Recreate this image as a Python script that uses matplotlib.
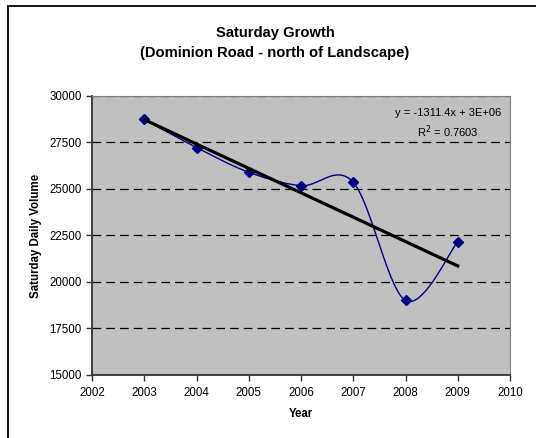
import numpy as np
import matplotlib
matplotlib.use('Agg')
import matplotlib.pyplot as plt
from matplotlib.patches import Rectangle

plt.rcParams['font.family'] = ['Liberation Sans', 'DejaVu Sans']

# Saturday daily volumes, Dominion Road north of Landscape
years = np.array([2003, 2004, 2005, 2006, 2007, 2008, 2009])
volumes = np.array([28740, 27230, 25900, 25180, 25360, 19010, 22160])

trend_text = 'y = -1311.4x + 3E+06\nR$^2$ = 0.7603'


def smooth_curve(x, y, n=40):
    # spreadsheet-style smoothed line: Bezier segments with Catmull-Rom controls
    pts = np.column_stack([x, y]).astype(float)
    padded = np.vstack([pts[0], pts, pts[-1]])
    out = []
    t = np.linspace(0, 1, n)[:, None]
    for i in range(len(pts) - 1):
        p0 = padded[i + 1]
        p3 = padded[i + 2]
        p1 = p0 + (padded[i + 2] - padded[i]) / 6.0
        p2 = p3 - (padded[i + 3] - padded[i + 1]) / 6.0
        seg = ((1 - t) ** 3) * p0 + 3 * ((1 - t) ** 2) * t * p1 + 3 * (1 - t) * t ** 2 * p2 + t ** 3 * p3
        out.append(seg if i == 0 else seg[1:])
    out = np.vstack(out)
    return out[:, 0], out[:, 1]


fig = plt.figure(figsize=(5.36, 4.38), dpi=100)
fig.patch.set_facecolor('white')

# chart area frame
fig.patches.append(Rectangle((8 / 536, -0.1), 1.2, 1 - 5.5 / 438 + 0.1,
                             transform=fig.transFigure, fill=False,
                             edgecolor='black', linewidth=1.3))

ax = fig.add_axes([92 / 536, 1 - 375 / 438, (510 - 92) / 536, (375 - 96) / 438])
ax.set_facecolor('#C0C0C0')

ax.set_xlim(2002, 2010)
ax.set_ylim(15000, 30000)
ax.set_xticks(np.arange(2002, 2011, 1))
ax.set_yticks(np.arange(15000, 30001, 2500))

for yv in np.arange(17500, 30001, 2500):
    ax.axhline(yv, color='black', linewidth=0.9, dashes=(7, 4), zorder=1)

sx, sy = smooth_curve(years, volumes)
ax.plot(sx, sy, color='#000080', linewidth=1.0, zorder=3)
ax.plot(years, volumes, linestyle='none', marker='D', markersize=5.5,
        color='#000080', zorder=4)

slope, intercept = np.polyfit(years, volumes, 1)
ax.plot(years[[0, -1]], slope * years[[0, -1]] + intercept, color='black',
        linewidth=2.3, zorder=5)

ax.text(0.852, 0.9, trend_text, transform=ax.transAxes, ha='center', va='center',
        fontsize=8, linespacing=1.35)

for s in ['top', 'right']:
    ax.spines[s].set_color('#808080')
    ax.spines[s].set_linewidth(0.8)
for s in ['left', 'bottom']:
    ax.spines[s].set_color('#333333')
    ax.spines[s].set_linewidth(1.3)

ax.tick_params(axis='both', direction='out', length=4, width=1, colors='#333333',
               labelcolor='black', labelsize=8.3)
ax.tick_params(axis='x', pad=5)

ax.set_xlabel('Year', fontsize=8.3, fontweight='bold', labelpad=6)
ax.set_ylabel('Saturday Daily Volume', fontsize=8.3, fontweight='bold', labelpad=5)

fig.text(275 / 536, 1 - 43 / 438, 'Saturday Growth\n(Dominion Road - north of Landscape)',
         ha='center', va='center', fontsize=10.6, fontweight='bold', linespacing=1.6)

fig.savefig('out.png', dpi=100)
